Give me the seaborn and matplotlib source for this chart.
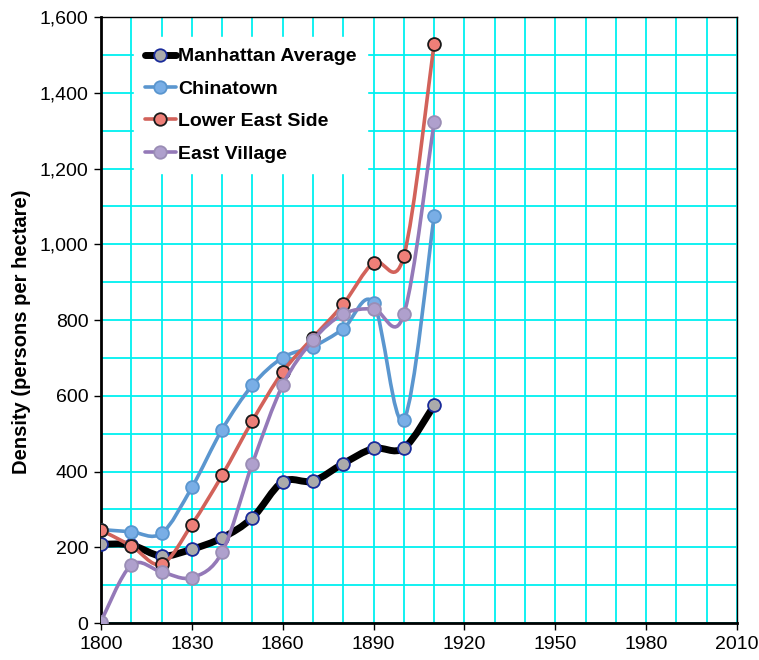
import matplotlib
matplotlib.use("Agg")
import matplotlib.pyplot as plt
import numpy as np
import pandas as pd
import seaborn as sns
from matplotlib.lines import Line2D
from matplotlib.path import Path
from matplotlib.patches import PathPatch
from matplotlib.ticker import MultipleLocator, StrMethodFormatter

years = [1800, 1810, 1820, 1830, 1840, 1850, 1860, 1870, 1880, 1890, 1900, 1910]
manhattan = [208, 206, 177, 195, 225, 278, 373, 375, 421, 461, 462, 575]
chinatown = [247, 241, 237, 358, 511, 628, 701, 730, 777, 845, 537, 1074]
lower_east_side = [245, 204, 155, 260, 390, 534, 663, 754, 842, 952, 969, 1530]
east_village = [4, 153, 135, 120, 187, 421, 628, 747, 816, 830, 815, 1323]

series_names = ["Manhattan Average", "Chinatown", "Lower East Side", "East Village"]

sns.set_theme(style="white")
plt.rcParams["font.family"] = ["Liberation Sans", "DejaVu Sans"]
plt.rcParams["text.color"] = "black"
plt.rcParams["axes.labelcolor"] = "black"
plt.rcParams["xtick.color"] = "black"
plt.rcParams["ytick.color"] = "black"

# line colour, marker fill, marker edge, line width
styles = {
    "Manhattan Average": ("#000000", "#ABABAB", "#1A2B9A", 5.0),
    "Chinatown": ("#5A96CF", "#79AEE6", "#5A96CF", 2.6),
    "Lower East Side": ("#D2625A", "#EE7F78", "#1A1A1A", 2.6),
    "East Village": ("#9479B8", "#AFA0CD", "#9A8DB5", 2.6),
}

df = pd.DataFrame({
    "year": years * 4,
    "density": manhattan + chinatown + lower_east_side + east_village,
    "series": sum([[n] * len(years) for n in series_names], []),
})


def smooth_path(x, y, t=1.0 / 6.0):
    # Bezier curve through the points, like a spreadsheet "smoothed line"
    p = np.column_stack([x, y]).astype(float)
    n = len(p)
    verts = [p[0]]
    codes = [Path.MOVETO]
    for i in range(n - 1):
        p_prev = p[i - 1] if i > 0 else p[i]
        p_next2 = p[i + 2] if i + 2 < n else p[i + 1]
        c1 = p[i] + (p[i + 1] - p_prev) * t
        c2 = p[i + 1] - (p_next2 - p[i]) * t
        verts += [c1, c2, p[i + 1]]
        codes += [Path.CURVE4] * 3
    return Path(verts, codes)


fig = plt.figure(figsize=(7.59, 6.60), dpi=100)
ax = fig.add_axes([0.133, 0.056, 0.838, 0.918])

for z, name in enumerate(series_names):
    line_c, fill_c, edge_c, lw = styles[name]
    sub = df[df["series"] == name]
    patch = PathPatch(smooth_path(sub["year"], sub["density"]), facecolor="none",
                      edgecolor=line_c, linewidth=lw, zorder=3 + 2 * z,
                      capstyle="round", joinstyle="round")
    ax.add_patch(patch)
    sns.scatterplot(data=sub, x="year", y="density", ax=ax, s=85, color=fill_c,
                    edgecolor=edge_c, linewidth=1.3, zorder=4 + 2 * z, legend=False)

ax.set_xlim(1800, 2010)
ax.set_ylim(0, 1600)
ax.xaxis.set_major_locator(MultipleLocator(30))
ax.xaxis.set_minor_locator(MultipleLocator(10))
ax.yaxis.set_major_locator(MultipleLocator(200))
ax.yaxis.set_minor_locator(MultipleLocator(100))
ax.yaxis.set_major_formatter(StrMethodFormatter("{x:,.0f}"))
ax.grid(True, which="both", color="#00F0F0", linewidth=1.3, zorder=0)
ax.set_axisbelow(True)

ax.tick_params(axis="both", which="major", direction="out", length=5, width=1,
               color="black", labelcolor="black", labelsize=14, pad=4,
               bottom=True, left=True)
ax.tick_params(axis="both", which="minor", length=0)
ax.set_xlabel("")
ax.set_ylabel("Density (persons per hectare)", fontsize=14.5, fontweight="bold",
              color="black", labelpad=5)
ax.yaxis.set_label_coords(-0.11, 0.48)

for side in ["left", "bottom"]:
    ax.spines[side].set_color("black")
    ax.spines[side].set_linewidth(2)
for side in ["top", "right"]:
    ax.spines[side].set_color("black")
    ax.spines[side].set_linewidth(1)

handles = []
for name in series_names:
    line_c, fill_c, edge_c, lw = styles[name]
    handles.append(Line2D([0], [0], color=line_c, linewidth=lw, marker="o", markersize=9,
                          markerfacecolor=fill_c, markeredgecolor=edge_c, markeredgewidth=1.3))
leg = ax.legend(handles, series_names, loc="upper left", bbox_to_anchor=(0.052, 0.967),
                borderaxespad=0, frameon=True, fancybox=False, facecolor="white",
                edgecolor="white", framealpha=1, handlelength=1.6, handletextpad=0.12,
                labelspacing=0.76, borderpad=0.55,
                prop={"weight": "bold", "size": 14, "family": "Liberation Sans"})
leg.set_zorder(20)

fig.savefig("out.png", dpi=100)
